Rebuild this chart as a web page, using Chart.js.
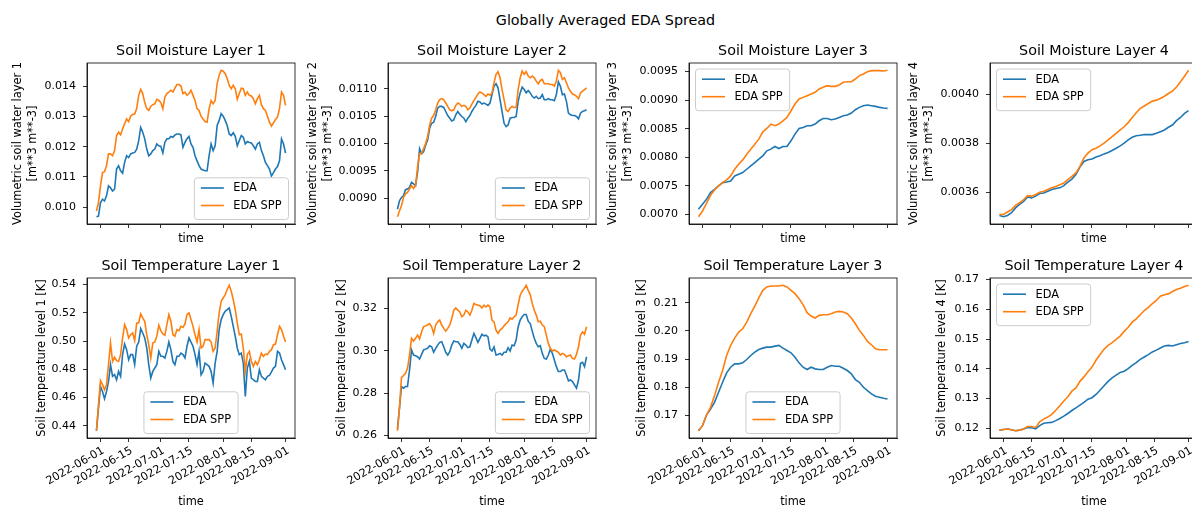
<!DOCTYPE html>
<html>
<head>
<meta charset="utf-8">
<script src="https://cdn.jsdelivr.net/npm/chart.js@4.4.0/dist/chart.umd.min.js"></script>
<style>
  html, body { margin: 0; padding: 0; background: #fff; overflow: hidden; }
  #fig { position: relative; width: 1192px; height: 506px; overflow: hidden; background: #fff; }
  #fig canvas { position: absolute; }
  #suptitle { position: absolute; left: 0; top: 12px; width: 1211px; text-align: center;
              font: 14.3px "DejaVu Sans", sans-serif; line-height: 16px; color: #000; white-space: nowrap; }
</style>
</head>
<body>
<div id="fig"><div id="suptitle">Globally Averaged EDA Spread</div></div>
<script>
// Days since 2022-05-30 (daily series and every-other-day series)
const DAYS_DAILY = [0,1,2,3,4,5,6,7,8,9,10,11,12,13,14,15,16,17,18,19,20,21,22,23,24,25,26,27,28,29,
  30,31,32,33,34,35,36,37,38,39,40,41,42,43,44,45,46,47,48,49,50,51,52,53,54,55,56,57,58,59,
  60,61,62,63,64,65,66,67,68,69,70,71,72,73,74,75,76,77,78,79,80,81,82,83,84,85,86,87,88,89,
  90,91,92,93,94];
const DAYS_ALT = [0,2,4,6,8,10,12,14,16,18,20,22,24,26,28,30,32,34,36,38,40,42,44,46,
  48,50,52,54,56,58,60,62,64,66,68,70,72,74,76,78,80,82,84,86,88,90,92,94];

// Date ticks on the time axis
const TICK_DAYS = [2, 16, 32, 46, 63, 77, 94];
const TICK_LABELS = ['2022-06-01','2022-06-15','2022-07-01','2022-07-15','2022-08-01','2022-08-15','2022-09-01'];

// Soil moisture layer 1
const SM1_EDA = [0.00968,0.00970,0.01014,0.01026,0.01020,0.01037,0.01070,0.01064,0.01053,0.01059,
  0.01126,0.01137,0.01120,0.01112,0.01148,0.01170,0.01164,0.01176,0.01179,0.01181,
  0.01192,0.01220,0.01264,0.01248,0.01226,0.01192,0.01170,0.01176,0.01187,0.01192,
  0.01209,0.01203,0.01201,0.01179,0.01214,0.01226,0.01226,0.01234,0.01231,0.01239,
  0.01242,0.01242,0.01239,0.01198,0.01214,0.01226,0.01234,0.01209,0.01198,0.01170,
  0.01153,0.01137,0.01126,0.01123,0.01120,0.01120,0.01170,0.01209,0.01187,0.01203,
  0.01270,0.01287,0.01309,0.01301,0.01287,0.01270,0.01242,0.01237,0.01246,0.01234,
  0.01203,0.01220,0.01237,0.01231,0.01209,0.01217,0.01214,0.01212,0.01203,0.01192,
  0.01209,0.01214,0.01187,0.01170,0.01148,0.01137,0.01126,0.01103,0.01114,0.01126,
  0.01134,0.01153,0.01226,0.01209,0.01179];
const SM1_SPP = [0.00987,0.01014,0.01070,0.01114,0.01117,0.01137,0.01176,0.01176,0.01170,0.01187,
  0.01237,0.01248,0.01239,0.01259,0.01276,0.01292,0.01283,0.01301,0.01307,0.01308,
  0.01326,0.01370,0.01390,0.01376,0.01346,0.01326,0.01320,0.01334,0.01339,0.01342,
  0.01357,0.01353,0.01346,0.01326,0.01364,0.01376,0.01381,0.01387,0.01381,0.01394,
  0.01406,0.01406,0.01401,0.01376,0.01381,0.01370,0.01376,0.01387,0.01370,0.01353,
  0.01326,0.01320,0.01301,0.01292,0.01283,0.01281,0.01326,0.01353,0.01342,0.01353,
  0.01409,0.01437,0.01453,0.01450,0.01442,0.01426,0.01403,0.01392,0.01403,0.01392,
  0.01357,0.01376,0.01394,0.01392,0.01370,0.01381,0.01370,0.01368,0.01359,0.01342,
  0.01359,0.01370,0.01339,0.01326,0.01320,0.01301,0.01281,0.01268,0.01279,0.01290,
  0.01298,0.01326,0.01381,0.01370,0.01337];
const SM1_TICKS = [0.010, 0.011, 0.012, 0.013, 0.014];

// Soil moisture layer 2
const SM2_EDA = [0.008796,0.008951,0.009012,0.009043,0.009154,0.009167,0.009198,0.009290,0.009259,0.009228,
  0.009475,0.009907,0.009815,0.009846,0.009969,0.010062,0.010278,0.010370,0.010389,0.010494,
  0.010648,0.010679,0.010679,0.010660,0.010586,0.010512,0.010463,0.010414,0.010432,0.010525,
  0.010586,0.010537,0.010494,0.010463,0.010401,0.010463,0.010512,0.010586,0.010648,0.010698,
  0.010772,0.010759,0.010722,0.010741,0.010722,0.010698,0.010741,0.010895,0.011049,0.011093,
  0.011019,0.010802,0.010586,0.010370,0.010309,0.010340,0.010463,0.010475,0.010475,0.010494,
  0.010772,0.010926,0.011031,0.010988,0.010926,0.010969,0.010926,0.010864,0.010833,0.010864,
  0.010821,0.010833,0.010895,0.010802,0.010802,0.010821,0.010802,0.010802,0.010784,0.010895,
  0.011130,0.011049,0.010895,0.010907,0.010772,0.010556,0.010525,0.010512,0.010512,0.010494,
  0.010451,0.010556,0.010586,0.010599,0.010617];
const SM2_SPP = [0.008660,0.008765,0.008858,0.009012,0.009074,0.009105,0.009167,0.009228,0.009179,0.009228,
  0.009568,0.009815,0.009815,0.009907,0.010000,0.010123,0.010340,0.010463,0.010512,0.010617,
  0.010741,0.010802,0.010821,0.010802,0.010741,0.010679,0.010617,0.010599,0.010617,0.010698,
  0.010741,0.010722,0.010679,0.010698,0.010679,0.010617,0.010648,0.010722,0.010784,0.010846,
  0.010907,0.010944,0.010926,0.010895,0.010864,0.010907,0.010883,0.010926,0.011111,0.011265,
  0.011315,0.011204,0.010988,0.010802,0.010617,0.010586,0.010648,0.010679,0.010660,0.010660,
  0.010988,0.011204,0.011327,0.011265,0.011315,0.011235,0.011204,0.011235,0.011204,0.011142,
  0.011093,0.011154,0.011173,0.011093,0.011093,0.011093,0.011080,0.011080,0.011049,0.011142,
  0.011340,0.011296,0.011173,0.011204,0.011111,0.011019,0.010957,0.010907,0.010895,0.010864,
  0.010821,0.010926,0.010957,0.010988,0.011019];
const SM2_TICKS = [0.0090, 0.0095, 0.0100, 0.0105, 0.0110];

// Soil moisture layer 3
const SM3_EDA = [0.007088,0.007176,0.007263,0.007381,0.007439,0.007498,0.007556,0.007568,0.007585,0.007673,
  0.007703,0.007732,0.007790,0.007849,0.007907,0.007966,0.008025,0.008112,0.008142,0.008189,
  0.008153,0.008189,0.008189,0.008288,0.008405,0.008505,0.008522,0.008552,0.008552,0.008581,
  0.008639,0.008680,0.008680,0.008657,0.008669,0.008698,0.008727,0.008739,0.008774,0.008833,
  0.008874,0.008903,0.008915,0.008903,0.008891,0.008874,0.008862,0.008856];
const SM3_SPP = [0.006959,0.007059,0.007193,0.007334,0.007427,0.007498,0.007556,0.007603,0.007673,0.007790,
  0.007878,0.007954,0.008054,0.008142,0.008229,0.008317,0.008446,0.008505,0.008581,0.008552,
  0.008581,0.008639,0.008698,0.008815,0.008932,0.009020,0.009049,0.009078,0.009108,0.009137,
  0.009196,0.009225,0.009254,0.009242,0.009242,0.009266,0.009313,0.009324,0.009324,0.009371,
  0.009430,0.009459,0.009500,0.009518,0.009518,0.009518,0.009512,0.009523];
const SM3_TICKS = [0.0070, 0.0075, 0.0080, 0.0085, 0.0090, 0.0095];

// Soil moisture layer 4
const SM4_EDA = [0.003505,0.003500,0.003505,0.003516,0.003536,0.003550,0.003563,0.003581,0.003577,0.003584,
  0.003595,0.003597,0.003604,0.003611,0.003615,0.003618,0.003627,0.003641,0.003654,0.003672,
  0.003703,0.003726,0.003733,0.003736,0.003744,0.003749,0.003757,0.003763,0.003771,0.003780,
  0.003790,0.003801,0.003814,0.003825,0.003831,0.003833,0.003836,0.003836,0.003836,0.003841,
  0.003848,0.003855,0.003866,0.003875,0.003893,0.003906,0.003923,0.003934];
const SM4_SPP = [0.003509,0.003509,0.003519,0.003529,0.003546,0.003557,0.003570,0.003586,0.003584,0.003591,
  0.003600,0.003604,0.003611,0.003618,0.003624,0.003631,0.003638,0.003652,0.003665,0.003679,
  0.003706,0.003740,0.003760,0.003774,0.003780,0.003790,0.003801,0.003814,0.003828,0.003841,
  0.003855,0.003868,0.003885,0.003906,0.003925,0.003943,0.003953,0.003963,0.003973,0.003977,
  0.003984,0.003993,0.004004,0.004014,0.004031,0.004052,0.004075,0.004099];
const SM4_TICKS = [0.0036, 0.0038, 0.0040];

// Soil temperature layer 1
const ST1_EDA = [0.4365,0.4525,0.4679,0.4643,0.4591,0.4643,0.4714,0.4833,0.4750,0.4762,
  0.4726,0.4785,0.4750,0.4904,0.4979,0.4939,0.4868,0.4904,0.4904,0.4833,
  0.4963,0.4993,0.5088,0.5057,0.5022,0.4951,0.4833,0.4738,0.4785,0.4809,
  0.4833,0.4927,0.4892,0.4892,0.4880,0.4927,0.4993,0.4939,0.4856,0.4833,
  0.4892,0.4892,0.4915,0.4904,0.4880,0.4963,0.5022,0.4993,0.4963,0.4904,
  0.4833,0.4927,0.4762,0.4785,0.4844,0.4833,0.4821,0.4785,0.4703,0.4844,
  0.4927,0.5081,0.5152,0.5187,0.5211,0.5223,0.5234,0.5175,0.5104,0.5034,
  0.4951,0.4904,0.4915,0.4844,0.4608,0.4809,0.4856,0.4738,0.4726,0.4714,
  0.4714,0.4797,0.4750,0.4738,0.4726,0.4750,0.4757,0.4781,0.4809,0.4821,
  0.4927,0.4915,0.4868,0.4833,0.4797];
const ST1_SPP = [0.4365,0.4549,0.4719,0.4691,0.4655,0.4691,0.4833,0.4986,0.4856,0.4885,
  0.4861,0.4856,0.4904,0.5022,0.5116,0.5081,0.5022,0.5045,0.5057,0.5003,
  0.5128,0.5128,0.5192,0.5164,0.5140,0.5045,0.4974,0.4880,0.4986,0.4993,
  0.5034,0.5112,0.5074,0.5050,0.5041,0.5116,0.5187,0.5140,0.5045,0.5034,
  0.5081,0.5074,0.5104,0.5097,0.5121,0.5187,0.5199,0.5152,0.5104,0.5045,
  0.4993,0.5081,0.4951,0.4963,0.5010,0.5010,0.5010,0.4993,0.4927,0.4951,
  0.5069,0.5199,0.5282,0.5305,0.5329,0.5365,0.5395,0.5353,0.5294,0.5223,
  0.5128,0.5045,0.5050,0.4951,0.4785,0.4904,0.4927,0.4856,0.4821,0.4856,
  0.4833,0.4868,0.4915,0.4892,0.4908,0.4904,0.4927,0.4939,0.4974,0.4979,
  0.5045,0.5104,0.5081,0.5034,0.4993];
const ST1_TICKS = [0.44, 0.46, 0.48, 0.50, 0.52, 0.54];

// Soil temperature layer 2
const ST2_EDA = [0.2631,0.2729,0.2831,0.2823,0.2831,0.2831,0.2909,0.3004,0.2980,0.2977,
  0.2972,0.2961,0.2983,0.3004,0.3008,0.3012,0.3024,0.3019,0.2993,0.3012,
  0.3027,0.3040,0.3043,0.3019,0.2993,0.2980,0.2996,0.3027,0.3046,0.3043,
  0.3043,0.3030,0.3012,0.3035,0.3027,0.3015,0.3019,0.3051,0.3082,0.3062,
  0.3040,0.3059,0.3078,0.3071,0.3074,0.3066,0.3008,0.2999,0.3019,0.2980,
  0.2983,0.2988,0.2980,0.2993,0.2993,0.3015,0.2999,0.3027,0.3024,0.3051,
  0.3114,0.3145,0.3161,0.3172,0.3172,0.3140,0.3129,0.3093,0.3059,0.3035,
  0.3019,0.3024,0.2988,0.2964,0.2961,0.2980,0.3008,0.2988,0.2957,0.2925,
  0.2902,0.2902,0.2909,0.2909,0.2886,0.2858,0.2862,0.2855,0.2839,0.2823,
  0.2862,0.2941,0.2946,0.2925,0.2972];
const ST2_SPP = [0.2622,0.2729,0.2873,0.2883,0.2894,0.2917,0.2980,0.3059,0.3046,0.3059,
  0.3074,0.3056,0.3090,0.3114,0.3118,0.3122,0.3129,0.3114,0.3082,0.3122,
  0.3137,0.3145,0.3122,0.3106,0.3093,0.3106,0.3122,0.3153,0.3192,0.3203,
  0.3192,0.3184,0.3161,0.3169,0.3192,0.3184,0.3169,0.3192,0.3224,0.3219,
  0.3216,0.3213,0.3203,0.3216,0.3208,0.3216,0.3208,0.3145,0.3137,0.3098,
  0.3082,0.3098,0.3106,0.3118,0.3129,0.3137,0.3156,0.3150,0.3161,0.3169,
  0.3219,0.3263,0.3282,0.3294,0.3310,0.3286,0.3266,0.3224,0.3192,0.3169,
  0.3137,0.3140,0.3122,0.3114,0.3074,0.3035,0.3012,0.2999,0.3004,0.2999,
  0.2993,0.2980,0.2988,0.2983,0.2972,0.2977,0.2980,0.2964,0.2961,0.2983,
  0.3019,0.3074,0.3090,0.3078,0.3114];
const ST2_TICKS = [0.26, 0.28, 0.30, 0.32];

// Soil temperature layer 3
const ST3_EDA = [0.16454,0.16632,0.17012,0.17226,0.17463,0.17819,0.18175,0.18507,0.18709,0.18828,
  0.18828,0.18863,0.18982,0.19125,0.19243,0.19338,0.19386,0.19421,0.19421,0.19457,
  0.19481,0.19386,0.19303,0.19220,0.19065,0.18863,0.18709,0.18626,0.18709,0.18650,
  0.18626,0.18626,0.18709,0.18769,0.18745,0.18745,0.18674,0.18591,0.18472,0.18270,
  0.18175,0.17997,0.17878,0.17760,0.17677,0.17641,0.17605,0.17582];
const ST3_SPP = [0.16454,0.16632,0.17012,0.17285,0.17700,0.18175,0.18591,0.19125,0.19481,0.19742,
  0.19955,0.20074,0.20312,0.20608,0.20881,0.21166,0.21439,0.21558,0.21593,0.21593,
  0.21593,0.21617,0.21558,0.21439,0.21320,0.21142,0.20929,0.20644,0.20525,0.20454,
  0.20549,0.20573,0.20573,0.20608,0.20668,0.20691,0.20668,0.20608,0.20454,0.20252,
  0.20015,0.19837,0.19623,0.19504,0.19362,0.19326,0.19326,0.19326];
const ST3_TICKS = [0.17, 0.18, 0.19, 0.20, 0.21];

// Soil temperature layer 4
const ST4_EDA = [0.1194,0.1196,0.1198,0.1195,0.1192,0.1194,0.1198,0.1203,0.1202,0.1198,
  0.1209,0.1217,0.1219,0.1220,0.1226,0.1233,0.1241,0.1250,0.1260,0.1269,
  0.1278,0.1287,0.1298,0.1303,0.1314,0.1328,0.1343,0.1358,0.1370,0.1379,
  0.1388,0.1392,0.1401,0.1412,0.1421,0.1432,0.1440,0.1448,0.1457,0.1463,
  0.1470,0.1477,0.1479,0.1477,0.1481,0.1485,0.1488,0.1492];
const ST4_SPP = [0.1194,0.1196,0.1198,0.1195,0.1192,0.1194,0.1198,0.1206,0.1206,0.1203,
  0.1222,0.1231,0.1238,0.1247,0.1261,0.1276,0.1292,0.1306,0.1325,0.1336,
  0.1358,0.1373,0.1390,0.1406,0.1429,0.1448,0.1466,0.1479,0.1488,0.1499,
  0.1510,0.1526,0.1540,0.1557,0.1568,0.1582,0.1596,0.1607,0.1619,0.1630,
  0.1644,0.1649,0.1652,0.1660,0.1667,0.1671,0.1677,0.1681];
const ST4_TICKS = [0.12, 0.13, 0.14, 0.15, 0.16, 0.17];

// ---- figure layout (pixels) ----
const COL_LEFT = [87, 388, 689, 990];
const ROW_TOP = [63, 278];
const ROW_H = [161, 160];
const PLOT_W = 208;
const Y_AXIS_W = 87;
const TOP_BAND = 40;
const RIGHT_PAD = 12;
const FONT = '"DejaVu Sans", sans-serif';
const BLUE = '#1f77b4', ORANGE = '#ff7f0e';

const PANELS = [
  { row: 0, col: 0, title: 'Soil Moisture Layer 1', ylabel: ['Volumetric soil water layer 1', '[m**3 m**-3]'],
    days: DAYS_DAILY, eda: SM1_EDA, spp: SM1_SPP, yticks: SM1_TICKS, dec: 3, legend: 'lower right', yTitleGap: 68.7 },
  { row: 0, col: 1, title: 'Soil Moisture Layer 2', ylabel: ['Volumetric soil water layer 2', '[m**3 m**-3]'],
    days: DAYS_DAILY, eda: SM2_EDA, spp: SM2_SPP, yticks: SM2_TICKS, dec: 4, legend: 'lower right', yTitleGap: 74.7 },
  { row: 0, col: 2, title: 'Soil Moisture Layer 3', ylabel: ['Volumetric soil water layer 3', '[m**3 m**-3]'],
    days: DAYS_ALT, eda: SM3_EDA, spp: SM3_SPP, yticks: SM3_TICKS, dec: 4, legend: 'upper left', yTitleGap: 75.7 },
  { row: 0, col: 3, title: 'Soil Moisture Layer 4', ylabel: ['Volumetric soil water layer 4', '[m**3 m**-3]'],
    days: DAYS_ALT, eda: SM4_EDA, spp: SM4_SPP, yticks: SM4_TICKS, dec: 4, legend: 'upper left', yTitleGap: 76 },
  { row: 1, col: 0, title: 'Soil Temperature Layer 1', ylabel: 'Soil temperature level 1 [K]',
    days: DAYS_DAILY, eda: ST1_EDA, spp: ST1_SPP, yticks: ST1_TICKS, dec: 2, legend: 'lower center', yTitleGap: 45.3 },
  { row: 1, col: 1, title: 'Soil Temperature Layer 2', ylabel: 'Soil temperature level 2 [K]',
    days: DAYS_DAILY, eda: ST2_EDA, spp: ST2_SPP, yticks: ST2_TICKS, dec: 2, legend: 'lower right', yTitleGap: 46.3 },
  { row: 1, col: 2, title: 'Soil Temperature Layer 3', ylabel: 'Soil temperature level 3 [K]',
    days: DAYS_ALT, eda: ST3_EDA, spp: ST3_SPP, yticks: ST3_TICKS, dec: 2, legend: 'lower center', yTitleGap: 47.3 },
  { row: 1, col: 3, title: 'Soil Temperature Layer 4', ylabel: 'Soil temperature level 4 [K]',
    days: DAYS_ALT, eda: ST4_EDA, spp: ST4_SPP, yticks: ST4_TICKS, dec: 2, legend: 'upper left', yTitleGap: 48.3 }
];

Chart.defaults.font.family = FONT;
Chart.defaults.color = '#000';

function roundedRect(ctx, x, y, w, h, r) {
  ctx.beginPath();
  ctx.moveTo(x + r, y);
  ctx.arcTo(x + w, y, x + w, y + h, r);
  ctx.arcTo(x + w, y + h, x, y + h, r);
  ctx.arcTo(x, y + h, x, y, r);
  ctx.arcTo(x, y, x + w, y, r);
  ctx.closePath();
}

// Axes frame on all four sides, panel title centred over the axes, in-axes legend box
const panelDecor = {
  id: 'panelDecor',
  afterDatasetsDraw(chart) {
    const { ctx, chartArea: a } = chart;
    ctx.save();
    ctx.strokeStyle = '#000';
    ctx.lineWidth = 0.8;
    ctx.strokeRect(a.left, a.top, a.right - a.left, a.bottom - a.top);
    ctx.restore();
  },
  afterDraw(chart, args, opts) {
    const { ctx, chartArea: a } = chart;
    ctx.save();
    ctx.font = '14.3px ' + FONT;
    ctx.fillStyle = '#000';
    ctx.textAlign = 'center';
    ctx.textBaseline = 'middle';
    ctx.fillText(opts.title, (a.left + a.right) / 2, a.top - 11.6);

    const sets = chart.data.datasets;
    ctx.font = '11.4px ' + FONT;
    const textW = Math.max(...sets.map(d => ctx.measureText(d.label).width));
    const w = 6.5 + 23 + 9.5 + textW + 7;
    const h = 41.7;
    let x, y;
    if (opts.loc === 'lower right') { x = a.right - 6.5 - w; y = a.bottom - 4.5 - h; }
    else if (opts.loc === 'upper left') { x = a.left + 6.5; y = a.top + 6; }
    else { x = (a.left + a.right) / 2 - w / 2; y = a.bottom - 4.5 - h; }
    roundedRect(ctx, x, y, w, h, 3);
    ctx.fillStyle = 'rgba(255,255,255,0.8)';
    ctx.fill();
    ctx.strokeStyle = '#cccccc';
    ctx.lineWidth = 1;
    ctx.stroke();
    const rows = [y + 10.2, y + 27.7];
    sets.forEach((d, i) => {
      ctx.strokeStyle = d.borderColor;
      ctx.lineWidth = 1.6;
      ctx.beginPath();
      ctx.moveTo(x + 6.5, rows[i]);
      ctx.lineTo(x + 29.5, rows[i]);
      ctx.stroke();
      ctx.fillStyle = '#000';
      ctx.textAlign = 'left';
      ctx.textBaseline = 'middle';
      ctx.fillText(d.label, x + 39, rows[i] + 0.5);
    });
    ctx.restore();
  }
};

const fig = document.getElementById('fig');

function makePanel(p) {
  const cl = COL_LEFT[p.col], ct = ROW_TOP[p.row], ch = ROW_H[p.row];
  const bottomRow = p.row === 1;
  const bottomH = bottomRow ? 72 : 30;
  const canvas = document.createElement('canvas');
  canvas.width = Y_AXIS_W + PLOT_W + RIGHT_PAD;
  canvas.height = TOP_BAND + ch + bottomH;
  canvas.style.left = (cl - Y_AXIS_W) + 'px';
  canvas.style.top = (ct - TOP_BAND) + 'px';
  fig.appendChild(canvas);

  // autoscale with 5% margins on both axes
  const all = p.eda.concat(p.spp);
  const lo = Math.min(...all), hi = Math.max(...all), m = (hi - lo) * 0.05;
  const d0 = p.days[0], d1 = p.days[p.days.length - 1], dm = (d1 - d0) * 0.05;

  const yTitleSize = 11.4, yTitleLH = 1.3;

  new Chart(canvas, {
    type: 'line',
    data: {
      datasets: [
        { label: 'EDA', data: p.days.map((d, i) => ({ x: d, y: p.eda[i] })), borderColor: BLUE, order: 1 },
        { label: 'EDA SPP', data: p.days.map((d, i) => ({ x: d, y: p.spp[i] })), borderColor: ORANGE, order: 0 }
      ]
    },
    options: {
      responsive: false,
      animation: false,
      devicePixelRatio: 1,
      layout: { padding: { top: TOP_BAND, left: 0, right: RIGHT_PAD, bottom: 0 } },
      elements: {
        line: { borderWidth: 1.6, tension: 0, fill: false },
        point: { radius: 0, hoverRadius: 0 }
      },
      plugins: {
        legend: { display: false },
        tooltip: { enabled: false },
        title: { display: false },
        panelDecor: { loc: p.legend, title: p.title }
      },
      scales: {
        x: {
          type: 'linear',
          min: d0 - dm,
          max: d1 + dm,
          afterBuildTicks: s => { s.ticks = TICK_DAYS.map(v => ({ value: v })); },
          afterFit: s => { s.height = bottomH; },
          ticks: {
            autoSkip: false,
            minRotation: bottomRow ? 30 : 0,
            maxRotation: bottomRow ? 30 : 0,
            padding: 2,
            labelOffset: bottomRow ? 3 : 0,
            color: '#000',
            font: { family: FONT, size: 11.2 },
            callback: v => bottomRow ? TICK_LABELS[TICK_DAYS.indexOf(v)] : ''
          },
          grid: { display: true, drawOnChartArea: false, drawTicks: true, tickLength: 4, color: '#000', lineWidth: 0.8 },
          border: { display: true, color: '#000', width: 0.8 },
          title: { display: true, text: 'time', color: '#000',
                   font: { family: FONT, size: 11.4 },
                   padding: { top: 0, bottom: bottomRow ? 1.4 : 7.8 } }
        },
        y: {
          type: 'linear',
          min: lo - m,
          max: hi + m,
          afterBuildTicks: s => { s.ticks = p.yticks.map(v => ({ value: v })); },
          afterFit: s => { s.width = Y_AXIS_W; },
          ticks: {
            padding: 7,
            color: '#000',
            font: { family: FONT, size: 11 },
            callback: v => v.toFixed(p.dec)
          },
          grid: { display: true, drawOnChartArea: false, drawTicks: true, tickLength: 4, color: '#000', lineWidth: 0.8 },
          border: { display: true, color: '#000', width: 0.8 },
          title: { display: true, text: p.ylabel, color: '#000',
                   font: { family: FONT, size: yTitleSize, lineHeight: yTitleLH },
                   padding: { top: Y_AXIS_W - p.yTitleGap - yTitleSize * yTitleLH / 2, bottom: 0 } }
        }
      }
    },
    plugins: [panelDecor]
  });
}

PANELS.forEach(makePanel);
</script>
</body>
</html>
